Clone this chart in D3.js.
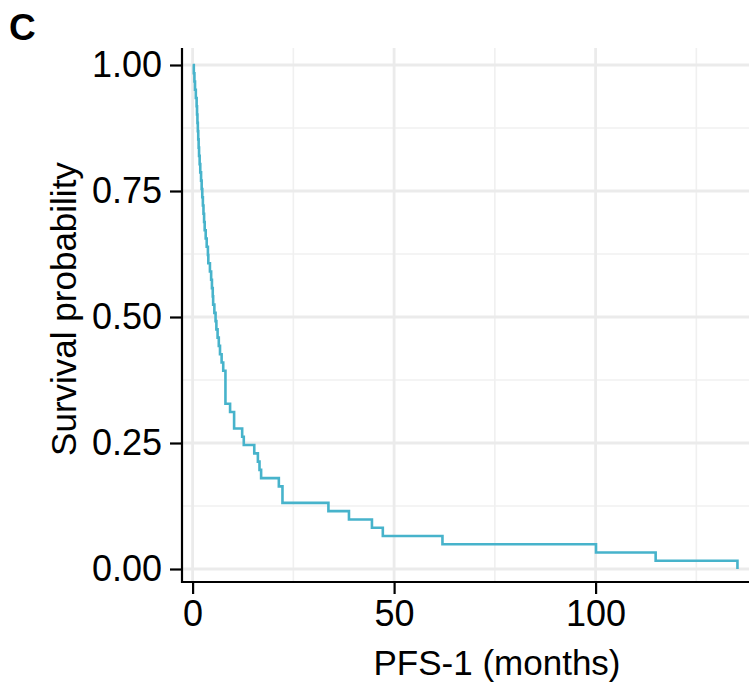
<!DOCTYPE html>
<html>
<head>
<meta charset="utf-8">
<script src="https://cdn.jsdelivr.net/npm/d3@7"></script>
<style>
  body { margin: 0; background: #fff; }
  text { font-family: "Liberation Sans", Arial, sans-serif; }
</style>
</head>
<body>
<svg width="749" height="689"></svg>
<script>
// event times (months), one per patient (no censoring seen)
var eventTimes = [
    0.3, 0.45, 0.6, 0.8,
    1.0, 1.1, 1.2, 1.3, 1.4, 1.5, 1.6,
    1.75, 1.9, 2.1,
    2.25, 2.4, 2.55,
    2.7, 2.85,
    3.0, 3.25,
    3.5, 3.8, 3.9,
    4.3, 4.6,
    4.8, 5.0, 5.1,
    5.4, 5.7,
    5.9, 6.2,
    6.5, 6.8,
    7.2, 7.6,
    8.15, 8.15, 8.15, 8.15,
    9.3,
    10.3, 10.3,
    12.3, 12.7,
    15.3, 16.2, 16.6, 17.0,
    21.4,
    22.3, 22.3,
    33.7, 38.8, 44.5, 47.2,
    62.0, 100.1, 114.9, 135.2
];

var xTicks = [0, 50, 100];
var xMinor = [25, 75, 125];
var yTicks = [0, 0.25, 0.5, 0.75, 1];
var yMinor = [0.125, 0.375, 0.625, 0.875];

var xTitle = "PFS-1 (months)";
var yTitle = "Survival probability";
var panelTag = "C";

var svg = d3.select("svg");

// panel edges in pixels
var pLeft = 182, pRight = 812, pTop = 48, pBottom = 582;

var x = d3.scaleLinear().domain([0, 100]).range([192.6, 595.6]);
var y = d3.scaleLinear().domain([0, 1]).range([569, 65]);

//Kaplan-Meier steps
var n = eventTimes.length;
var steps = [{ t: 0, s: 1 }];
var atRisk = n;
var sorted = eventTimes.slice().sort(d3.ascending);
var s = 1;
d3.groups(sorted, function (d) { return d; }).forEach(function (g) {
    s = s * (1 - g[1].length / atRisk);
    atRisk -= g[1].length;
    steps.push({ t: g[0], s: s });
});

//grid
var grid = svg.append("g");
grid.selectAll(".xminor").data(xMinor).enter().append("line")
    .attr("x1", function (d) { return x(d); })
    .attr("x2", function (d) { return x(d); })
    .attr("y1", pTop).attr("y2", pBottom)
    .attr("stroke", "#F0F0F0").attr("stroke-width", 1.6);
grid.selectAll(".yminor").data(yMinor).enter().append("line")
    .attr("y1", function (d) { return y(d); })
    .attr("y2", function (d) { return y(d); })
    .attr("x1", pLeft).attr("x2", pRight)
    .attr("stroke", "#F0F0F0").attr("stroke-width", 1.6);
grid.selectAll(".xmajor").data(xTicks).enter().append("line")
    .attr("x1", function (d) { return x(d); })
    .attr("x2", function (d) { return x(d); })
    .attr("y1", pTop).attr("y2", pBottom)
    .attr("stroke", "#EBEBEB").attr("stroke-width", 2.8);
grid.selectAll(".ymajor").data(yTicks).enter().append("line")
    .attr("y1", function (d) { return y(d); })
    .attr("y2", function (d) { return y(d); })
    .attr("x1", pLeft).attr("x2", pRight)
    .attr("stroke", "#EBEBEB").attr("stroke-width", 2.8);

//curve
var line = d3.line()
    .x(function (d) { return x(d.t); })
    .y(function (d) { return y(d.s); })
    .curve(d3.curveStepAfter);

svg.append("path")
    .datum(steps)
    .attr("d", line)
    .attr("fill", "none")
    .attr("stroke", "#47B3CB")
    .attr("stroke-width", 2.6);

//axes
var xAxis = d3.axisBottom(x).tickValues(xTicks).tickSize(12).tickPadding(6)
    .tickFormat(d3.format("d"));
var gx = svg.append("g")
    .attr("transform", "translate(0," + pBottom + ")")
    .call(xAxis);
gx.select(".domain").remove();
gx.append("line").attr("x1", pLeft).attr("x2", pRight)
    .attr("stroke", "#000").attr("stroke-width", 2.2);

var yAxis = d3.axisLeft(y).tickValues(yTicks).tickSize(12).tickPadding(8)
    .tickFormat(d3.format(".2f"));
var gy = svg.append("g")
    .attr("transform", "translate(" + pLeft + ",0)")
    .call(yAxis);
gy.select(".domain").remove();
gy.append("line").attr("y1", pTop).attr("y2", pBottom + 1)
    .attr("stroke", "#000").attr("stroke-width", 2.2);

svg.selectAll(".tick line").attr("stroke", "#000").attr("stroke-width", 2.2);
svg.selectAll(".tick text")
    .attr("fill", "#000")
    .style("font-size", "36px")
    .style("font-family", "'Liberation Sans', Arial, sans-serif");

//titles
svg.append("text")
    .attr("x", 497).attr("y", 675)
    .attr("text-anchor", "middle")
    .style("font-size", "35px")
    .text(xTitle);

svg.append("text")
    .attr("transform", "translate(76,309) rotate(-90)")
    .attr("text-anchor", "middle")
    .style("font-size", "35px")
    .text(yTitle);

svg.append("text")
    .attr("x", 9).attr("y", 40)
    .style("font-size", "37px")
    .style("font-weight", "bold")
    .text(panelTag);
</script>
</body>
</html>
